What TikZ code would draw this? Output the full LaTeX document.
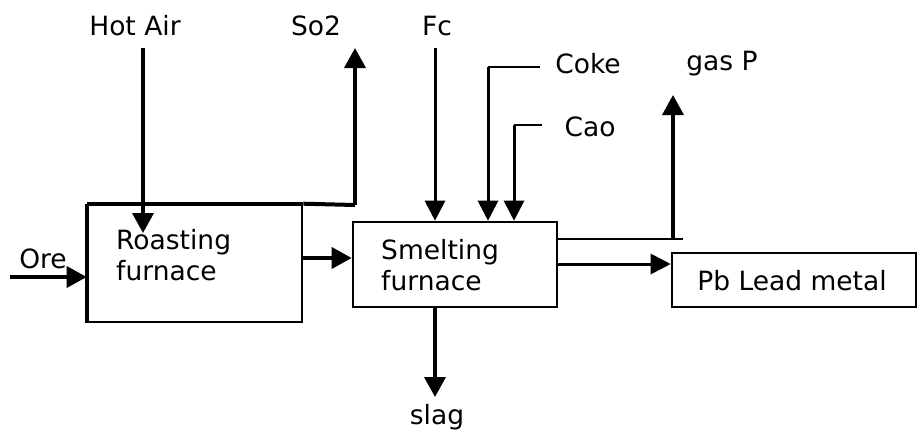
\documentclass[tikz,border=0pt]{standalone}
\usepackage{fontspec}
\setmainfont{DejaVu Sans}
\usetikzlibrary{arrows.meta}
\begin{document}
\begin{tikzpicture}[x=1pt,y=-1pt,
  lbl/.style={font=\fontsize{26.5}{31}\selectfont, inner sep=0pt},
  boxstyle/.style={draw, line width=2.6pt, inner sep=0pt},
  arr/.style={line width=3.6pt, -{Triangle[length=20pt,width=21pt]}},
  arrthin/.style={line width=3pt, -{Triangle[length=20pt,width=20pt]}},
  plain/.style={line width=2.6pt}]
\useasboundingbox (0,0) rectangle (917,432);
% boxes
\node[boxstyle, minimum width=214pt, minimum height=117pt] (roast) at (195,263.5) {};
\draw[line width=4pt] (roast.north west) -- (roast.north east);
\draw[line width=4pt] (roast.north west) -- (roast.south west);
\node[lbl, anchor=west, align=left] (roastlbl) at (116,255) {Roasting\\furnace};
\node[boxstyle, minimum width=204pt, minimum height=85pt] (smelt) at (455,264.5) {};
\node[lbl, anchor=west, align=left] (smeltlbl) at (381,265) {Smelting\\furnace};
\node[boxstyle, minimum width=244pt, minimum height=54pt] (pb) at (794,280) {};
\node[lbl] (pblbl) at (792,281) {Pb Lead metal};
% labels
\node[lbl] (hotair) at (135,26) {Hot Air};
\node[lbl] (so2) at (316,26) {So2};
\node[lbl] (fc) at (437,26) {Fc};
\node[lbl] (coke) at (588,64) {Coke};
\node[lbl] (cao) at (590,127) {Cao};
\node[lbl] (gasp) at (722,64) {gas P};
\node[lbl] (ore) at (43,259) {Ore};
\node[lbl] (slag) at (437,417) {slag};
% coordinates
\coordinate (ha0) at (143,48);
\coordinate (ha1) at (143,233);
\coordinate (orein) at (10,277);
\coordinate (so2a) at (355,205);
\coordinate (so2b) at (355,48);
\coordinate (fc0) at (435,48);
\coordinate (coke0) at (540,67);
\coordinate (coke1) at (488,67);
\coordinate (cao0) at (542,125);
\coordinate (cao1) at (514,125);
\coordinate (gas0) at (683,239);
\coordinate (gas1) at (673,239);
\coordinate (gas2) at (673,95);
\coordinate (rs) at (0,258);
\coordinate (sp) at (0,264);
\coordinate (slag1) at (435,397);
% connectors
\draw[arr] (ha0) -- (ha1);
\draw[arr] (orein) -- (roast.west |- orein);
\draw[line width=4pt] (roast.north east) -- (so2a);
\draw[arr] (so2a) -- (so2b);
\draw[arr] (roast.east |- rs) -- (smelt.west |- rs);
\draw[arrthin] (fc0) -- (fc0 |- smelt.north);
\draw[plain] (coke0) -- (coke1);
\draw[arrthin] (coke1) -- (coke1 |- smelt.north);
\draw[plain] (cao0) -- (cao1);
\draw[arrthin] (cao1) -- (cao1 |- smelt.north);
\draw[plain] (smelt.east |- gas0) -- (gas0);
\draw[arr] (gas1) -- (gas2);
\draw[arrthin] (smelt.east |- sp) -- (pb.west |- sp);
\draw[arr] (smelt.south -| slag1) -- (slag1);
\end{tikzpicture}
\end{document}
